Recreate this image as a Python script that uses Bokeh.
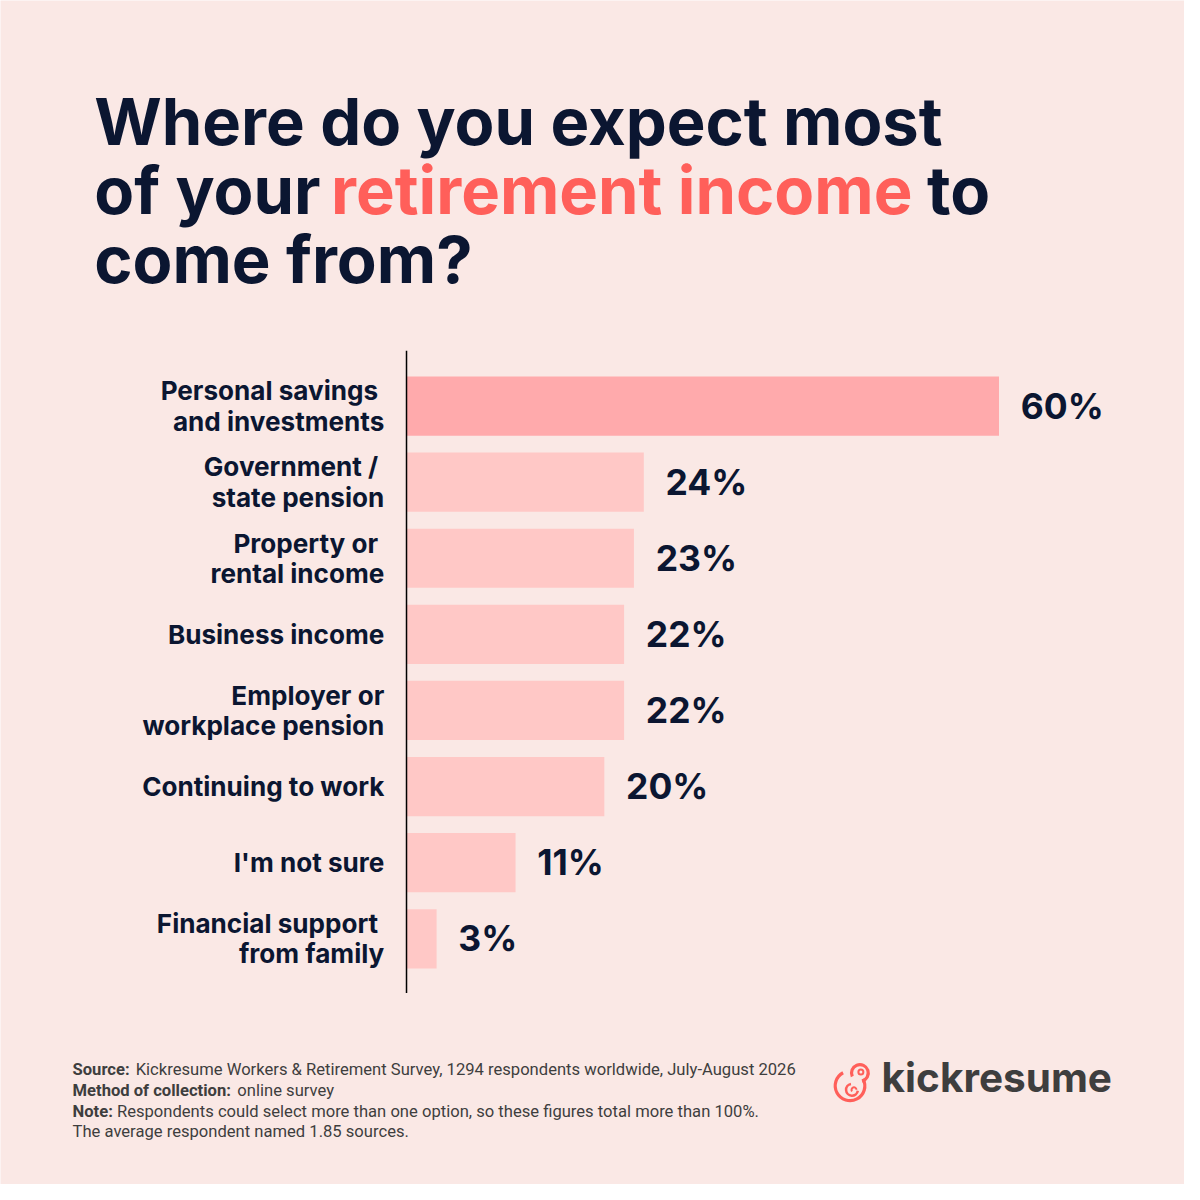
import math
from bokeh.plotting import figure
from bokeh.models import Range1d, Label, ColumnDataSource
from bokeh.core.properties import value
from bokeh.embed import file_html
from bokeh.resources import INLINE

# ---------------- data ----------------
categories = [
    "Personal savings \nand investments",
    "Government / \nstate pension",
    "Property or \nrental income",
    "Business income",
    "Employer or\nworkplace pension",
    "Continuing to work",
    "I'm not sure",
    "Financial support \nfrom family",
]
values = [60, 24, 23, 22, 22, 20, 11, 3]
value_labels = [f"{v}%" for v in values]
bar_colors = ["#FFAAAC"] + ["#FFC8C6"] * 7

footer_bold = ["Source:", "Method of collection:", "Note:", ""]
footer_text = [
    "Kickresume Workers & Retirement Survey, 1294 respondents worldwide, July-August 2026",
    "online survey",
    "Respondents could select more than one option, so these figures total more than 100%.",
    "The average respondent named 1.85 sources.",
]

# ---------------- styles ----------------
BG = "#FAE8E5"
DARK = "#0B1631"
RED = "#FF5F5A"
GRAY = "#3E3E3E"
FONT = "Inter"

W = H = 1184
S = W / 1200.0          # layout designed on a 1200 px grid
idx = list(range(len(categories)))

p = figure(
    width=W, height=H, output_backend="svg", toolbar_location=None,
    x_range=Range1d(-41.2, 78.8), y_range=Range1d(10.228, -5.328),
    x_axis_type=None, y_axis_type=None, min_border=0,
    background_fill_color=BG, border_fill_color=BG, outline_line_color=None,
)
p.grid.visible = False
p.extra_x_ranges = {"px": Range1d(0, 1200)}
p.extra_y_ranges = {"py": Range1d(0, 1200)}

src = ColumnDataSource(dict(y=idx, v=values, lab=value_labels, cat=categories,
                            color=bar_colors, zero=[0] * len(idx)))

p.hbar(y="y", left=0, right="v", height=0.778, fill_color="color", line_color=None, source=src)

# vertical axis line
p.segment(x0=-0.05, y0=-0.726, x1=-0.05, y1=7.713, line_color="#000000", line_width=1.5)

# category labels
p.text(x="zero", y="y", text="cat", source=src, x_offset=-23 * S, text_align="right",
       text_baseline="middle", text_font=value(FONT), text_font_style="bold",
       text_font_size=f"{26.5 * S:.1f}px", text_color=DARK, text_line_height=0.98)

# value labels
p.text(x="v", y="y", text="lab", source=src, x_offset=22 * S, text_align="left",
       text_baseline="middle", text_font=value(FONT), text_font_style="bold",
       text_font_size=f"{36 * S:.1f}px", text_color=DARK)

# ---------------- text helper ----------------
def lab(text, xr, yb, size, color, bold=True, font=FONT):
    fs = size * S
    ytop = yb * S
    p.add_layout(Label(x=xr * S, y=H - ytop + 0.37 * fs, x_units="screen", y_units="screen",
                       text=text, text_font=font,
                       text_font_style="bold" if bold else "normal",
                       text_font_size=f"{fs:.1f}px", text_color=color,
                       text_baseline="alphabetic"))

# ---------------- title ----------------
TS = 66
lab("Where do you expect most", 95, 147, TS, DARK)
lab("of your", 95, 217, TS, DARK)
lab("retirement income", 335, 217, TS, RED)
lab("to", 939, 217, TS, DARK)
lab("come from?", 95, 287, TS, DARK)

# ---------------- footer ----------------
FS = 16.8
FF = "Roboto"
lab(footer_bold[0], 73, 1090, FS, GRAY, True, FF)
lab(footer_text[0], 137, 1090, FS, GRAY, False, FF)
lab(footer_bold[1], 73, 1111, FS, GRAY, True, FF)
lab(footer_text[1], 240, 1111, FS, GRAY, False, FF)
lab(footer_bold[2], 73, 1132, FS, GRAY, True, FF)
lab(footer_text[2], 118, 1132, FS, GRAY, False, FF)
lab(footer_text[3], 73, 1153, FS, GRAY, False, FF)

# ---------------- logo ----------------
lab("kickresume", 893, 1107, 41, GRAY)
lw = 3.2
def py(y):
    return 1200 - y
p.arc(x=861, y=py(1100), radius=15, start_angle=math.radians(118), end_angle=math.radians(28),
      line_color=RED, line_width=lw, x_range_name="px", y_range_name="py")
p.arc(x=871, y=py(1087), radius=8.5, start_angle=math.radians(-75), end_angle=math.radians(205),
      line_color=RED, line_width=lw, x_range_name="px", y_range_name="py")
p.scatter(x=[872], y=[py(1086)], size=5, marker="circle", fill_color=None,
          line_color=RED, line_width=2, x_range_name="px", y_range_name="py")
p.arc(x=863, y=py(1104), radius=6, start_angle=math.radians(100), end_angle=math.radians(-10),
      line_color=RED, line_width=2.5, x_range_name="px", y_range_name="py")
p.arc(x=865, y=py(1104), radius=2.5, start_angle=math.radians(0), end_angle=math.radians(220),
      line_color=RED, line_width=2, x_range_name="px", y_range_name="py")

open("out.html", "w").write(file_html(p, INLINE))
